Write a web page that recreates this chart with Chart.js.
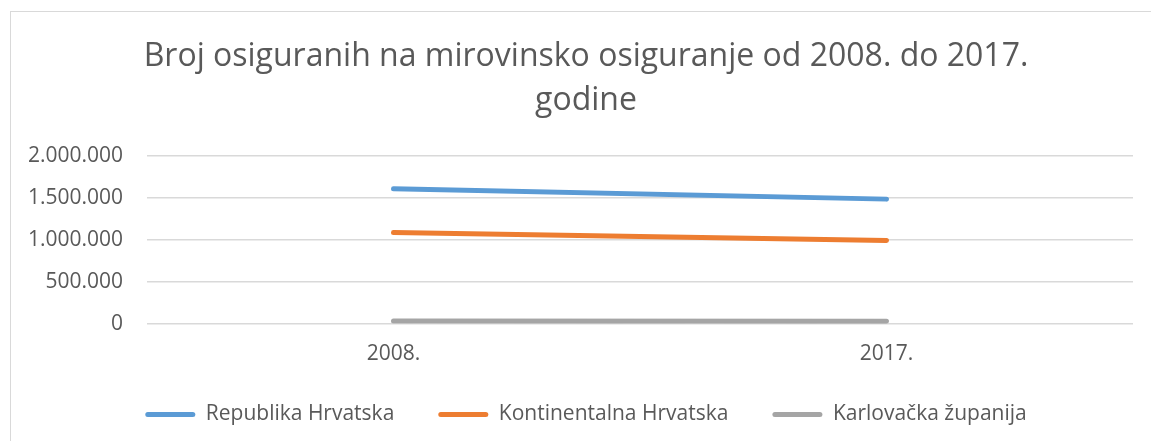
<!DOCTYPE html>
<html>
<head>
<meta charset="utf-8">
<script src="https://cdn.jsdelivr.net/npm/chart.js@4/dist/chart.umd.min.js"></script>
<style>
  html, body { margin: 0; padding: 0; background: #ffffff; }
  #wrap { position: relative; width: 1151px; height: 441px; overflow: hidden; }
  #frame { position: absolute; left: 10px; top: 11px; width: 1160px; height: 450px; border: 1px solid #d9d9d9; box-sizing: border-box; pointer-events: none; }
  canvas { position: absolute; left: 10px; top: 0; }
</style>
</head>
<body>
<div id="wrap">
  <canvas id="c" width="1152" height="480"></canvas>
  <div id="frame"></div>
</div>
<script>
const titleLines = ['Broj osiguranih na mirovinsko osiguranje od 2008. do 2017.', 'godine'];
const categories = ['2008.', '2017.'];
const republikaHrvatska = [1609000, 1486000];
const kontinentalnaHrvatska = [1089000, 993000];
const karlovackaZupanija = [32000, 31000];
const seriesNames = ['Republika Hrvatska', 'Kontinentalna Hrvatska', 'Karlovačka županija'];
const yTickValues = [0, 500000, 1000000, 1500000, 2000000];

function fmt(v) {
  return String(Math.round(v)).replace(/\B(?=(\d{3})+(?!\d))/g, '.');
}

const textColor = '#595959';
const font = 'Open Sans';
const colors = ['#5B9BD5', '#ED7D31', '#A5A5A5'];
const seriesData = [republikaHrvatska, kontinentalnaHrvatska, karlovackaZupanija];

new Chart(document.getElementById('c'), {
  type: 'line',
  data: {
    labels: categories,
    datasets: seriesNames.map((n, i) => ({
      label: n,
      data: seriesData[i],
      borderColor: colors[i],
      backgroundColor: colors[i],
      borderWidth: 5,
      borderCapStyle: 'round',
      pointRadius: 0,
      pointHoverRadius: 0,
      tension: 0
    }))
  },
  options: {
    responsive: false,
    animation: false,
    devicePixelRatio: 1,
    layout: { padding: { left: 0, right: 0, top: 0, bottom: 45 } },
    plugins: {
      title: {
        display: true,
        text: titleLines,
        color: textColor,
        font: { family: font, size: 32, weight: 'normal', lineHeight: 1.375 },
        padding: { top: 35, bottom: 33 }
      },
      legend: {
        position: 'bottom',
        labels: {
          color: textColor,
          font: { family: font, size: 21 },
          boxWidth: 50,
          boxHeight: 5,
          useBorderRadius: true,
          borderRadius: 2.5,
          padding: 44,
          generateLabels: (chart) => Chart.defaults.plugins.legend.labels.generateLabels(chart).map(l => Object.assign(l, { lineWidth: 0 }))
        }
      },
      tooltip: { enabled: false }
    },
    scales: {
      x: {
        offset: true,
        grid: { display: false, drawTicks: false },
        border: { display: false },
        ticks: { color: textColor, font: { family: font, size: 21 }, padding: 18 },
        afterFit: (s) => { s.height = s.height - 25; }
      },
      y: {
        min: 0,
        max: 2000000,
        afterBuildTicks: (s) => { s.ticks = yTickValues.map(v => ({ value: v })); },
        afterFit: (s) => { s.width = 137; },
        grid: { color: '#d9d9d9', lineWidth: 1.5, drawTicks: false },
        border: { display: false },
        ticks: { color: textColor, font: { family: font, size: 21 }, padding: 24, callback: (v) => fmt(v) }
      },
      yRight: {
        position: 'right',
        display: true,
        grid: { display: false, drawTicks: false },
        border: { display: false },
        ticks: { display: false },
        afterFit: (s) => { s.width = 29; }
      }
    }
  }
});
</script>
</body>
</html>
